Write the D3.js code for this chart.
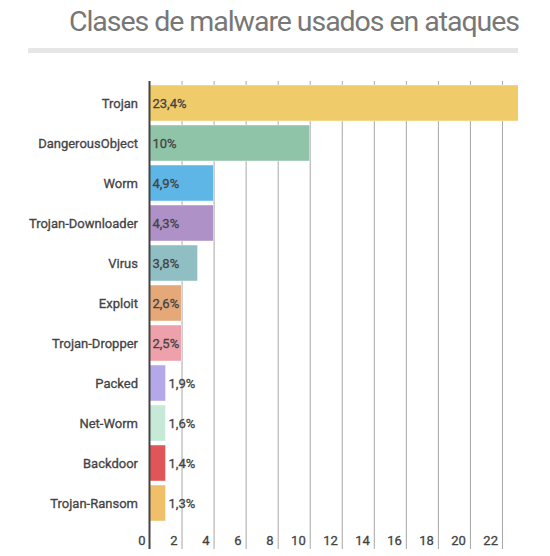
<!DOCTYPE html>
<html>
<head>
<meta charset="utf-8">
<script src="https://cdn.jsdelivr.net/npm/d3@7"></script>
<style>
  body { margin: 0; background: #fff; }
  text { font-family: Roboto, "Open Sans", sans-serif; }
  .lbl { font-size: 13px; fill: #444; stroke: #444; stroke-width: 0.3px; }
</style>
</head>
<body>
<div id="chart"></div>
<script>
// data
const categories = ["Trojan", "DangerousObject", "Worm", "Trojan-Downloader", "Virus",
  "Exploit", "Trojan-Dropper", "Packed", "Net-Worm", "Backdoor", "Trojan-Ransom"];
const shareLabels = ["23,4%", "10%", "4,9%", "4,3%", "3,8%", "2,6%", "2,5%", "1,9%", "1,6%", "1,4%", "1,3%"];
// bar lengths as drawn (the source chart rounds them down)
const barLengths = [23.4, 10, 4, 4, 3, 2, 2, 1, 1, 1, 1];
const colors = ["#f0cb6a", "#8fc4a9", "#5db6e5", "#ad91c7", "#8fbfc3", "#e5a878",
  "#eea0ab", "#b4a8eb", "#c6ead7", "#e05557", "#f0bf6a"];
const tickValues = [0, 2, 4, 6, 8, 10, 12, 14, 16, 18, 20, 22];

const width = 550, height = 556;
const plotTop = 81, plotBottom = 549;

const svg = d3.select("#chart")
  .append("svg")
  .attr("width", width)
  .attr("height", height);

// title + grey rule
svg.append("text")
  .attr("x", 519)
  .attr("y", 31)
  .attr("text-anchor", "end")
  .style("font-size", "28.5px")
  .style("letter-spacing", "-1.05px")
  .style("fill", "#777")
  .text("Clases de malware usados en ataques");

svg.append("rect")
  .attr("x", 28).attr("y", 48)
  .attr("width", 490).attr("height", 5)
  .style("fill", "#e6e6e6");

const x = d3.scaleLinear().domain([0, 23]).range([149.5, 518]);
const y = d3.scaleBand().domain(categories).range([83, 523]).paddingInner(0.1).paddingOuter(0.05);

// vertical grid lines
svg.append("g")
  .selectAll("line")
  .data(tickValues.slice(1))
  .enter()
  .append("line")
  .attr("x1", d => x(d) + 0.5)
  .attr("x2", d => x(d) + 0.5)
  .attr("y1", plotTop)
  .attr("y2", plotBottom)
  .style("stroke", "#a6a6a6")
  .style("stroke-width", 1);

// bars, clipped at the right edge of the plot
svg.append("clipPath").attr("id", "plot-clip")
  .append("rect")
  .attr("x", x(0)).attr("y", plotTop)
  .attr("width", x(23) - x(0)).attr("height", plotBottom - plotTop);

svg.append("g")
  .attr("clip-path", "url(#plot-clip)")
  .selectAll("rect")
  .data(categories)
  .enter()
  .append("rect")
  .attr("x", x(0))
  .attr("y", d => y(d))
  .attr("width", (d, i) => x(barLengths[i]) - x(0))
  .attr("height", y.bandwidth())
  .style("fill", (d, i) => colors[i])
  .style("stroke", "rgba(255,255,255,0.45)")
  .style("stroke-width", 1);

// value labels: inside when they fit, otherwise just after the bar
svg.append("g")
  .selectAll("text")
  .data(categories)
  .enter()
  .append("text")
  .attr("class", "lbl")
  .text((d, i) => shareLabels[i])
  .attr("y", d => y(d) + y.bandwidth() / 2)
  .attr("dy", "0.35em")
  .each(function(d, i) {
    const w = this.getComputedTextLength();
    const barEnd = Math.min(x(barLengths[i]), x(23));
    const inside = w + 3 <= barEnd - x(0);
    d3.select(this).attr("x", inside ? x(0) + 3 : barEnd + 3);
  });

// category labels
svg.append("g")
  .selectAll("text")
  .data(categories)
  .enter()
  .append("text")
  .attr("class", "lbl")
  .text(d => d)
  .attr("x", 138)
  .attr("y", d => y(d) + y.bandwidth() / 2)
  .attr("dy", "0.35em")
  .attr("text-anchor", "end");

// tick labels along the bottom
svg.append("g")
  .selectAll("text")
  .data(tickValues)
  .enter()
  .append("text")
  .attr("class", "lbl")
  .text(d => d)
  .attr("x", d => x(d) - 4)
  .attr("y", 545)
  .attr("text-anchor", "end");

// baseline axis
svg.append("line")
  .attr("x1", x(0)).attr("x2", x(0))
  .attr("y1", plotTop).attr("y2", plotBottom)
  .style("stroke", "#444")
  .style("stroke-width", 2);
</script>
</body>
</html>
